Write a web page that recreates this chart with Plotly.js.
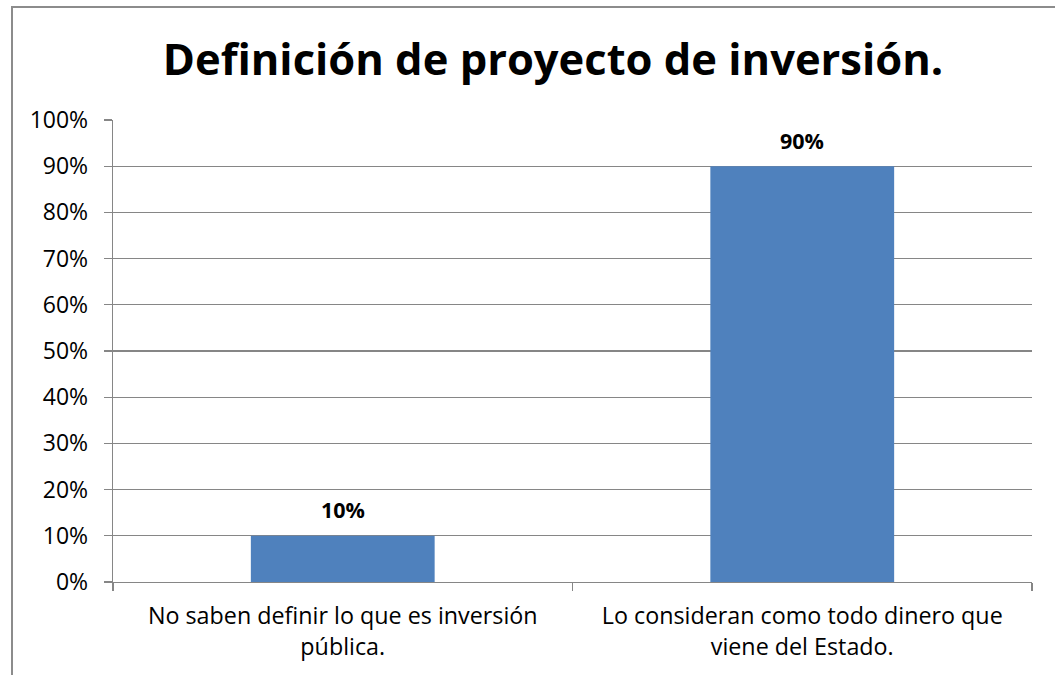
<!DOCTYPE html>
<html>
<head>
<meta charset="utf-8">
<script src="https://cdn.plot.ly/plotly-3.0.1.min.js"></script>
<style>
html,body{margin:0;padding:0;background:#fff;}
#chart{width:1055px;height:675px;}
</style>
</head>
<body>
<div id="chart"></div>
<script>
const categories = [
  "No saben definir lo que es inversión<br>pública.",
  "Lo consideran como todo dinero que<br>viene del Estado."
];
const values = [0.10, 0.90];
const valueLabels = ["10%", "90%"];
const titleText = "Definición de proyecto de inversión.";

const FONT = "'Open Sans', Lato, 'DejaVu Sans', sans-serif";
const GRID = "#868686";

const trace = {
  type: "bar",
  x: categories,
  y: values,
  width: 0.4,
  marker: {color: "#4F81BD"},
  hoverinfo: "none"
};

const annotations = categories.map((c, i) => ({
  x: c, y: values[i], xref: "x", yref: "y",
  text: "<b>" + valueLabels[i] + "</b>",
  showarrow: false, yanchor: "middle", yshift: 26,
  font: {family: FONT, size: 21.5, color: "#000"}
}));

const L = 113, R = 1032, T = 120, B = 582;
const px2x = p => (p - L) / (R - L);
const px2y = p => (B - p) / (B - T);

const layout = {
  width: 1055, height: 675,
  margin: {l: L, r: 1055 - R, t: T, b: 675 - B, pad: 0},
  paper_bgcolor: "#fff", plot_bgcolor: "#fff",
  showlegend: false,
  title: {
    text: "<b>" + titleText + "</b>",
    font: {family: FONT, size: 43.5, color: "#000"},
    x: 553/1055, xanchor: "center", xref: "container",
    y: 1 - 60/675, yanchor: "middle", yref: "container"
  },
  font: {family: FONT, size: 23, color: "#000"},
  xaxis: {
    type: "category",
    showgrid: false,
    showline: true, linecolor: GRID, linewidth: 1.3,
    ticks: "outside", tickson: "boundaries", ticklen: 8, tickcolor: GRID, tickwidth: 1.3,
    ticklabelstandoff: 13,
    tickfont: {family: FONT, size: 23.3, color: "#000"},
    fixedrange: true
  },
  yaxis: {
    range: [0, 1], dtick: 0.1, tick0: 0, tickformat: ".0%",
    showgrid: true, gridcolor: GRID, gridwidth: 1.3,
    showline: true, linecolor: GRID, linewidth: 1.3,
    ticks: "outside", ticklen: 8, tickcolor: GRID, tickwidth: 1.3,
    ticklabelstandoff: 11,
    tickfont: {family: FONT, size: 23, color: "#000"},
    zeroline: false, fixedrange: true
  },
  annotations: annotations,
  shapes: [{
    type: "rect", xref: "paper", yref: "paper",
    x0: px2x(12), x1: px2x(1060), y0: px2y(680), y1: px2y(7),
    line: {color: "#8c8c8c", width: 2}, fillcolor: "rgba(0,0,0,0)", layer: "below"
  }]
};

Plotly.newPlot("chart", [trace], layout, {displayModeBar: false, staticPlot: true});
</script>
</body>
</html>
